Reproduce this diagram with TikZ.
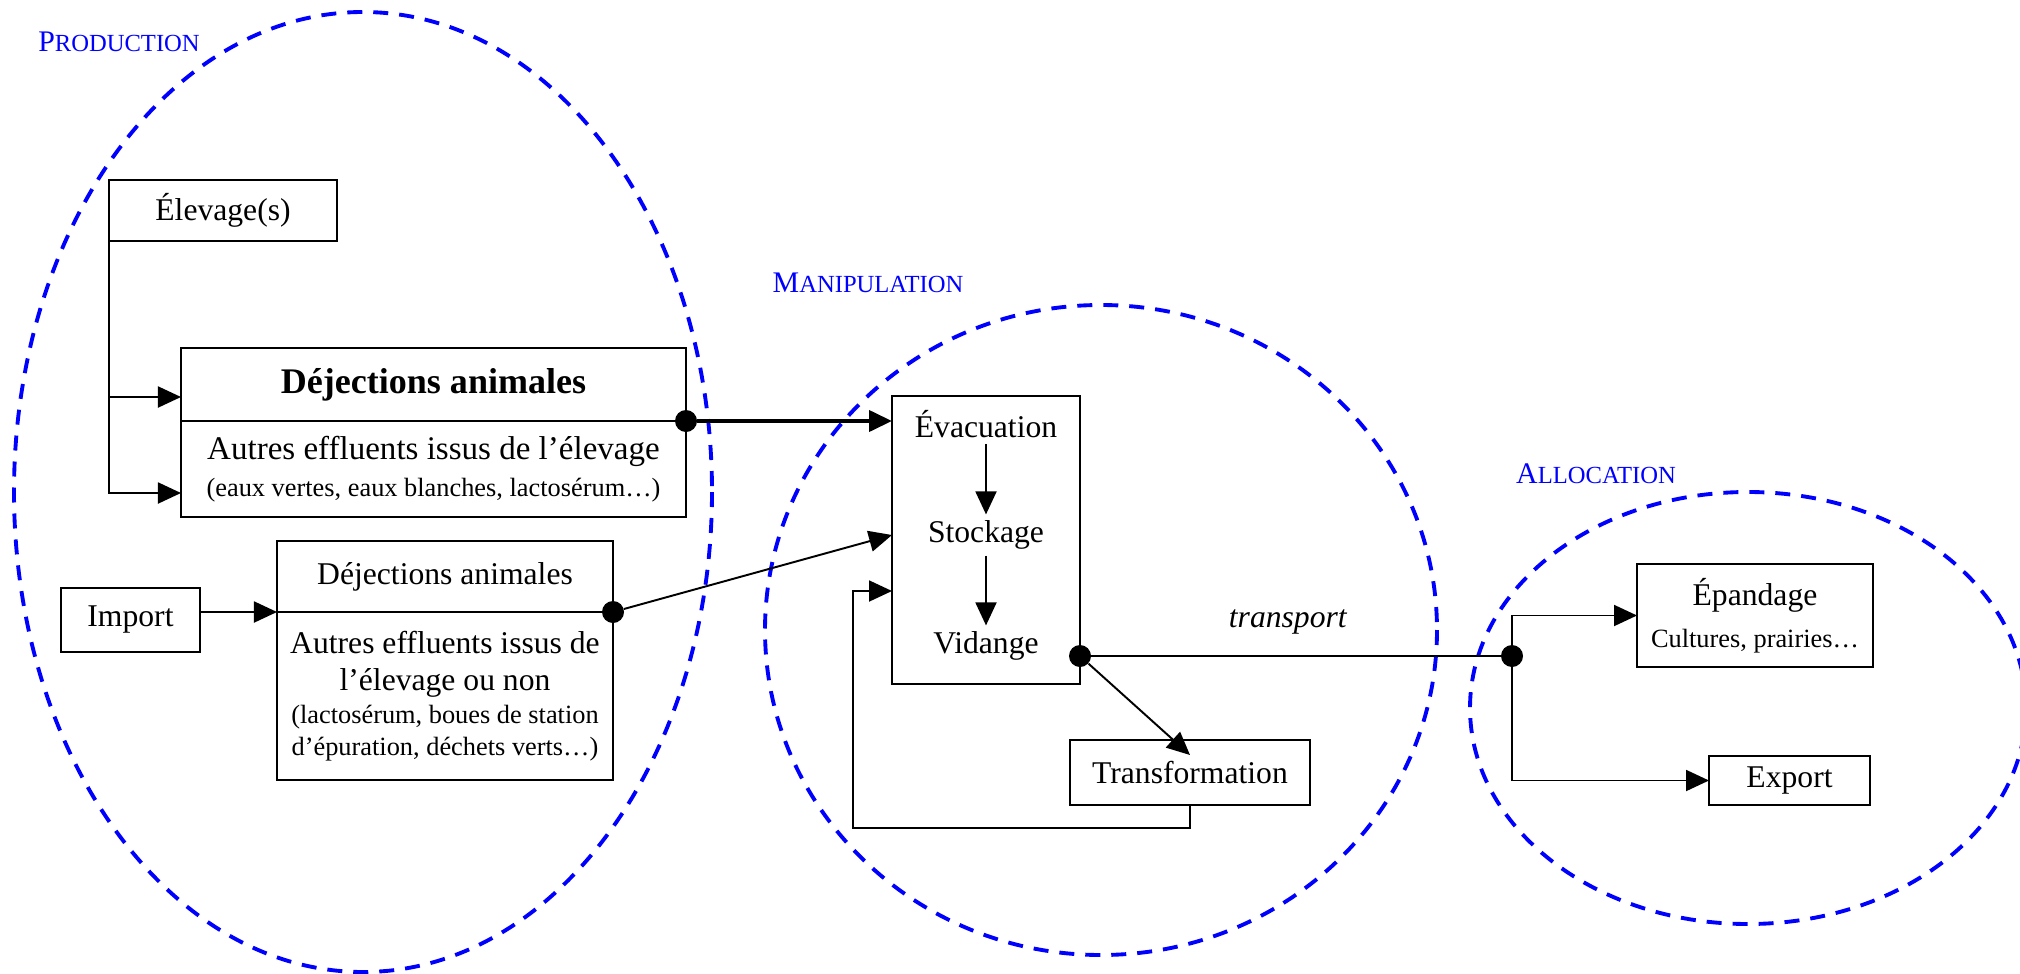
\documentclass[tikz,border=0pt]{standalone}
\usepackage{fontspec}
\setmainfont{Liberation Serif}
\usetikzlibrary{arrows.meta}
\newcommand{\zonelabel}[2]{{\fontsize{17}{20}\selectfont #1}{\fontsize{14}{17}\selectfont #2}}
\newcommand{\petit}{\fontsize{15}{18}\selectfont}
\begin{document}
\begin{tikzpicture}[x=0.2mm,y=-0.2mm,font=\fontsize{18}{21}\selectfont,
	box/.style={draw,line width=1.1pt,inner sep=0pt,outer sep=0pt,align=center},
	arr/.style={-{Triangle[length=4.6mm,width=4.2mm]},line width=1.1pt},
	zone/.style={draw=blue,line width=2.2pt,dash pattern=on 3mm off 2.2mm},
	zonename/.style={text=blue},
	dot/.style={circle,fill,inner sep=0pt,minimum size=4.4mm}]
	\useasboundingbox (0,0) rectangle (2020,974);
	% zones
	\draw[zone] (363,492) ellipse [x radius=349,y radius=480];
	\draw[zone] (1101,630) ellipse [x radius=336,y radius=325];
	\draw[zone] (1748,708) ellipse [x radius=278,y radius=216];
	\node[zonename] (prodname) at (119,42) {\zonelabel{P}{RODUCTION}};
	\node[zonename] (maniname) at (868,283) {\zonelabel{M}{ANIPULATION}};
	\node[zonename] (alloname) at (1596,474) {\zonelabel{A}{LLOCATION}};
	% production
	\node[box,minimum width=45.6mm,minimum height=12.2mm] (elev) at (223,210.5) {Élevage(s)};
	\node[box,minimum width=101mm,minimum height=14.6mm,font=\fontsize{20.5}{24}\selectfont\bfseries] (dej) at (433.5,384.5) {Déjections animales};
	\node[box,minimum width=101mm,minimum height=19.2mm,anchor=north] (aut) at (dej.south) {{\fontsize{18.8}{21}\selectfont Autres effluents issus de l’élevage}\\{\petit (eaux vertes, eaux blanches, lactosérum…)}};
	\node[box,minimum width=27.8mm,minimum height=12.8mm] (import) at (130.5,620) {Import};
	\node[box,minimum width=67.2mm,minimum height=14.2mm] (idej) at (445,576.5) {Déjections animales};
	\node[box,minimum width=67.2mm,minimum height=33.6mm,anchor=north] (iaut) at (idej.south) {Autres effluents issus de\\l’élevage ou non\\[-2.3pt]{\petit (lactosérum, boues de station}\\[-3pt]{\petit d’épuration, déchets verts…)}};
	\draw[arr] (elev.south west) |- ([yshift=-4.8mm]aut.west);
	\draw[arr] (elev.south west) |- ([yshift=-2.5mm]dej.west);
	\draw[arr] (import.east |- idej.south west) -- (idej.south west);
	% manipulation
	\node[box,minimum width=37.6mm,minimum height=57.6mm] (manip) at (986,540) {};
	\node (evac) at (986,424) {Évacuation};
	\node (stock) at (986,535) {Stockage};
	\node (vid) at (986,646) {Vidange};
	\draw[arr] (evac) -- (stock);
	\draw[arr] (stock) -- (vid);
	\node[box,minimum width=48mm,minimum height=13mm] (transf) at (1190,772.5) {Transformation};
	\node[dot] (ddot) at (dej.south east) {};
	\node[dot] (idot) at (idej.south east) {};
	\node[dot] (vdot) at (1080,656) {};
	\draw[arr,line width=2.3pt] (ddot) -- (ddot -| manip.west);
	\draw[arr] (idot) -- (manip.west |- stock);
	\draw[arr] (vdot) -- ([yshift=-3mm]transf.north);
	\coordinate (retour) at (853,828);
	\draw[arr] (transf.south) |- (retour) |- ([yshift=-10.2mm]manip.west);
	% allocation
	\node[box,minimum width=47.2mm,minimum height=20.6mm] (epand) at (1755,615.5) {Épandage\\[3pt]{\petit Cultures, prairies…}};
	\node[box,minimum width=32.2mm,minimum height=9.8mm] (export) at (1789.5,780.5) {Export};
	\node[dot] (adot) at (1512,656) {};
	\draw[line width=1.1pt] (vdot) -- (adot) node[pos=0.48,above=3mm,font=\fontsize{18}{21}\selectfont\itshape] (transp) {transport};
	\draw[arr] (adot) |- (epand.west);
	\draw[arr] (adot) |- (export.west);
\end{tikzpicture}
\end{document}
